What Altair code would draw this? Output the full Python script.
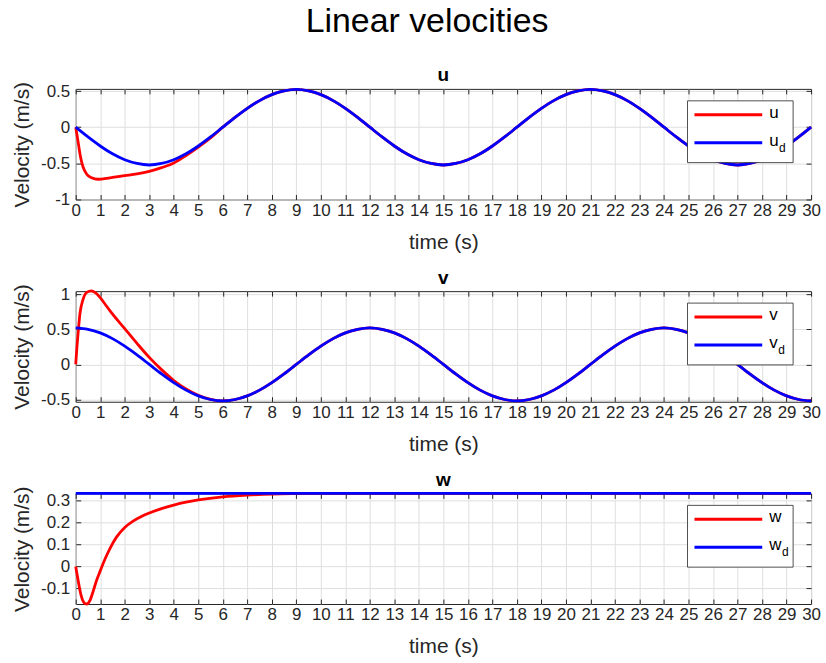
import altair as alt
import pandas as pd

# ---------------- data ----------------
T_GRID = [0, 0.5, 1, 1.5, 2, 2.5, 3, 3.5, 4, 4.5, 5, 5.5, 6, 6.5, 7, 7.5, 8, 8.5, 9, 9.5,
          10, 10.5, 11, 11.5, 12, 12.5, 13, 13.5, 14, 14.5, 15, 15.5, 16, 16.5, 17, 17.5,
          18, 18.5, 19, 19.5, 20, 20.5, 21, 21.5, 22, 22.5, 23, 23.5, 24, 24.5, 25, 25.5,
          26, 26.5, 27, 27.5, 28, 28.5, 29, 29.5, 30]

# desired u (blue)
UD = [0, -0.135, -0.26, -0.368, -0.45, -0.502, -0.523, -0.502, -0.45, -0.368, -0.26, -0.135, 0,
      0.135, 0.26, 0.368, 0.45, 0.502, 0.523, 0.502, 0.45, 0.368, 0.26, 0.135, 0,
      -0.135, -0.26, -0.368, -0.45, -0.502, -0.523, -0.502, -0.45, -0.368, -0.26, -0.135, 0,
      0.135, 0.26, 0.368, 0.45, 0.502, 0.523, 0.502, 0.45, 0.368, 0.26, 0.135, 0,
      -0.135, -0.26, -0.368, -0.45, -0.502, -0.523, -0.502, -0.45, -0.368, -0.26, -0.135, 0]

# desired v (blue)
VD = [0.523, 0.502, 0.45, 0.368, 0.26, 0.135, 0, -0.135, -0.26, -0.368, -0.45, -0.502, -0.523,
      -0.502, -0.45, -0.368, -0.26, -0.135, 0, 0.135, 0.26, 0.368, 0.45, 0.502, 0.523,
      0.502, 0.45, 0.368, 0.26, 0.135, 0, -0.135, -0.26, -0.368, -0.45, -0.502, -0.523,
      -0.502, -0.45, -0.368, -0.26, -0.135, 0, 0.135, 0.26, 0.368, 0.45, 0.502, 0.523,
      0.502, 0.45, 0.368, 0.26, 0.135, 0, -0.135, -0.26, -0.368, -0.45, -0.502, -0.523]

# actual u (red) transient, then it follows u_d from t = 6
U_T = [0, 0.1, 0.2, 0.3, 0.45, 0.65, 0.9, 1.4, 2, 2.5, 3, 3.5, 4, 4.5, 5, 5.5]
U_V = [0, -0.21, -0.42, -0.55, -0.65, -0.70, -0.72, -0.70, -0.67, -0.645, -0.61, -0.56,
       -0.495, -0.392, -0.275, -0.148]

# actual v (red) transient, then it follows v_d from t = 6
V_T = [0, 0.05, 0.1, 0.17, 0.3, 0.45, 0.64, 0.8, 1.0, 1.2, 1.4, 2, 2.5, 3, 3.5, 4, 4.5, 5, 5.5]
V_V = [0, 0.25, 0.46, 0.72, 0.93, 1.03, 1.05, 1.025, 0.955, 0.86, 0.765, 0.51, 0.30, 0.10,
       -0.075, -0.23, -0.35, -0.44, -0.5]

# actual w (red)
W_T = [0, 0.11, 0.22, 0.34, 0.45, 0.58, 0.72, 0.85, 1.0, 1.2, 1.4, 1.67, 2, 2.34, 2.68, 3,
       3.5, 4, 4.5, 5, 6, 7, 8, 9, 10, 30]
W_V = [0, -0.071, -0.132, -0.165, -0.171, -0.155, -0.11, -0.064, -0.02, 0.035, 0.083, 0.135,
       0.178, 0.207, 0.228, 0.244, 0.264, 0.28, 0.293, 0.303, 0.317, 0.325, 0.33, 0.332,
       0.333, 0.333]

# desired w (blue), constant
WD_T = [0, 30]
WD_V = [0.333, 0.333]

X_TICKS = list(range(0, 31))
Y_TICKS_U = [-1, -0.5, 0, 0.5]
Y_TICKS_V = [-0.5, 0, 0.5, 1]
Y_TICKS_W = [-0.1, 0, 0.1, 0.2, 0.3]

FONT = "Liberation Sans"
INK = "#262626"
RED = "#ff0000"
BLUE = "#0000ff"
W, H = 738, 111
LEG_FS = 17
# advance width of each legend letter (em) so the subscript sits right after it
ADV = {"u": 0.556, "v": 0.5, "w": 0.722}


def tick_axis(orient, vals):
    return alt.Axis(orient=orient, values=vals, labels=False, title=None, grid=False,
                    domain=False, ticks=True, tickSize=5, offset=-5, tickColor=INK,
                    tickWidth=1)


def panel(name, rt, rv, bt, bv, dom, yt):
    red = pd.DataFrame({"t": rt, "v": rv})
    blue = pd.DataFrame({"t": bt, "v": bv})
    xs = alt.Scale(domain=[0, 30], nice=False, zero=False)
    ys = alt.Scale(domain=dom, nice=False, zero=False)
    main_x = alt.Axis(orient="bottom", values=X_TICKS, title="time (s)", grid=True,
                      ticks=False, tickSize=0, domain=False, labelPadding=3,
                      titlePadding=13, labelFlush=False, labelOverlap=False)
    main_y = alt.Axis(orient="left", values=yt, title="Velocity (m/s)", grid=True,
                      ticks=False, tickSize=0, domain=False, labelPadding=6,
                      titlePadding=8, labelExpr="'' + datum.value", labelOverlap=False)
    l_red = alt.Chart(red).mark_line(color=RED, strokeWidth=2.8, interpolate="monotone",
                                     clip=False).encode(
        x=alt.X("t:Q", scale=xs, axis=main_x),
        y=alt.Y("v:Q", scale=ys, axis=main_y))
    l_blue = alt.Chart(blue).mark_line(color=BLUE, strokeWidth=2.8, interpolate="monotone",
                                       clip=False).encode(
        x=alt.X("t:Q", scale=xs, axis=tick_axis("top", X_TICKS)),
        y=alt.Y("v:Q", scale=ys, axis=tick_axis("right", yt)))
    l_ticks = alt.Chart(blue).mark_line(opacity=0).encode(
        x=alt.X("t:Q", scale=xs, axis=tick_axis("bottom", X_TICKS)),
        y=alt.Y("v:Q", scale=ys, axis=tick_axis("left", yt)))

    one = alt.Data(values=[{"k": 0}])
    box = alt.Chart(one).mark_rect(fill="white", stroke=INK, strokeWidth=0.8).encode(
        x=alt.value(614), x2=alt.value(720), y=alt.value(12), y2=alt.value(74))
    s1 = alt.Chart(one).mark_rule(color=RED, strokeWidth=3).encode(
        x=alt.value(621), x2=alt.value(689), y=alt.value(26))
    s2 = alt.Chart(one).mark_rule(color=BLUE, strokeWidth=3).encode(
        x=alt.value(621), x2=alt.value(689), y=alt.value(54))
    t1 = alt.Chart(one).mark_text(align="left", baseline="middle", font=FONT,
                                  fontSize=LEG_FS, color="black").encode(
        x=alt.value(696), y=alt.value(24), text=alt.value(name))
    t2 = alt.Chart(one).mark_text(align="left", baseline="middle", font=FONT,
                                  fontSize=LEG_FS, color="black").encode(
        x=alt.value(696), y=alt.value(52), text=alt.value(name))
    t3 = alt.Chart(one).mark_text(align="left", baseline="middle", font=FONT, fontSize=12,
                                  color="black").encode(
        x=alt.value(696.5 + ADV[name] * LEG_FS), y=alt.value(59), text=alt.value("d"))

    return alt.layer(l_red, l_blue, l_ticks, box, s1, s2, t1, t2, t3).resolve_axis(
        x="independent", y="independent").properties(
        width=W, height=H,
        title=alt.TitleParams(name, fontSize=19, fontWeight="bold", font=FONT,
                              color="black", offset=-4))


p_u = panel("u", U_T + T_GRID[12:], U_V + UD[12:], T_GRID, UD, [-1, 0.53], Y_TICKS_U)
p_v = panel("v", V_T + T_GRID[12:], V_V + VD[12:], T_GRID, VD, [-0.534, 1.047], Y_TICKS_V)
p_w = panel("w", W_T, W_V, WD_T, WD_V, [-0.171, 0.333], Y_TICKS_W)

chart = alt.vconcat(p_u, p_v, p_w, spacing=14).properties(
    title=alt.TitleParams("Linear velocities", fontSize=34, font=FONT, fontWeight="normal",
                          color="black", anchor="middle", offset=27, dx=11),
    padding={"left": 11, "top": 3, "right": 5, "bottom": 5},
).configure_view(stroke=INK, strokeWidth=1).configure_axis(
    labelFont=FONT, titleFont=FONT, labelColor=INK, titleColor=INK,
    labelFontSize=17, titleFontSize=21, titleFontWeight="normal",
    gridColor="#dfdfdf", gridWidth=1,
)

chart.save("out.html", embed_options={"renderer": "svg", "actions": False})
